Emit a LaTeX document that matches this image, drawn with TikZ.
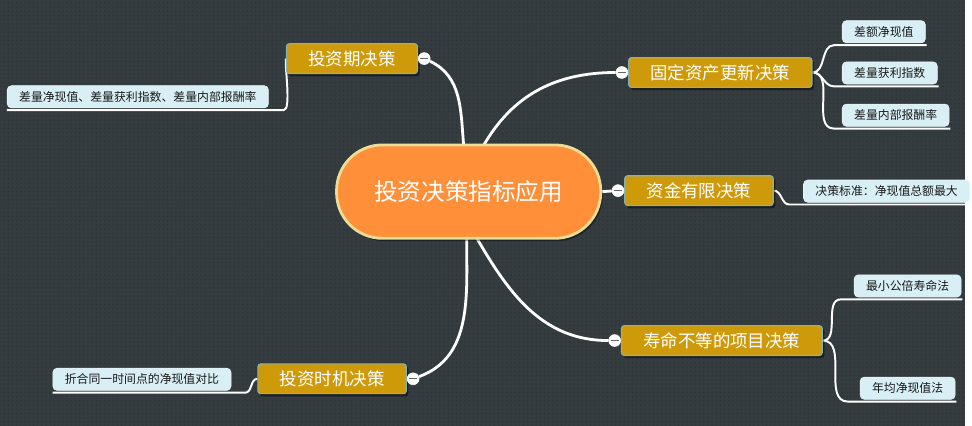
\documentclass[tikz,border=0pt]{standalone}
\usepackage{fontspec}
\setmainfont{Noto Sans CJK SC}
\usepackage{tikz}
\usetikzlibrary{positioning, calc, backgrounds, shadows, patterns}

\definecolor{boardbg}{RGB}{53,60,63}
\definecolor{boarddot}{RGB}{43,49,52}
\definecolor{rootfill}{RGB}{255,143,56}
\definecolor{rootedge}{RGB}{236,221,150}
\definecolor{branchfill}{RGB}{207,154,10}
\definecolor{branchedge}{RGB}{134,178,178}
\definecolor{leaffill}{RGB}{216,239,245}
\definecolor{leafedge}{RGB}{236,246,249}

\begin{document}
\begin{tikzpicture}[
        x=0.025cm, y=-0.025cm,
        root/.style={rectangle, draw=rootedge, line width=2pt, fill=rootfill, text=white, rounded corners=1.15cm, minimum width=6.65cm, minimum height=2.35cm, font=\fontsize{16.9}{20}\selectfont, drop shadow={shadow xshift=1.5pt, shadow yshift=-2pt, fill=black, opacity=0.4}},
        topic/.style={rectangle, draw=branchedge, thick, fill=branchfill, text=white, rounded corners=2pt, inner xsep=0.55cm, minimum height=0.75cm, font=\fontsize{12.5}{15}\selectfont, drop shadow={shadow xshift=1.5pt, shadow yshift=-2pt, fill=black, opacity=0.45}},
        leaf/.style={rectangle, draw=leafedge, fill=leaffill, text=black!90, rounded corners=3pt, inner xsep=0.3cm, minimum height=0.56cm, font=\fontsize{8.5}{10}\selectfont},
        fold/.style={circle, draw=white, fill=white, minimum size=0.3cm, inner sep=0pt, path picture={\draw[black!60, line width=1pt] ([xshift=-2.8pt]path picture bounding box.center) -- ([xshift=2.8pt]path picture bounding box.center);}},
        trunk/.style={white, line width=2pt},
        twig/.style={white, line width=1.4pt}
    ]

    % Nodes
    \node[root] (root) at (472,193) {投资决策指标应用};

    \node[topic] (period) at (354.5,59) {投资期决策};
    \node[topic] (renew) at (725.5,73) {固定资产更新决策};
    \node[topic] (capital) at (704,192) {资金有限决策};
    \node[topic] (life) at (727,343) {寿命不等的项目决策};
    \node[topic] (timing) at (334.5,381.5) {投资时机决策};

    % Fold markers
    \node[fold] (periodfold) [right=0pt of period] {};
    \node[fold] (renewfold) [left=0pt of renew] {};
    \node[fold] (capitalfold) [left=0pt of capital] {};
    \node[fold] (lifefold) [left=0pt of life] {};
    \node[fold] (timingfold) [right=0pt of timing] {};

    % Leaves
    \node[leaf, anchor=west] (periodnote) at (7,97.5) {差量净现值、差量获利指数、差量内部报酬率};
    \node[leaf, anchor=west] (npvdiff) at (848,32) {差额净现值};
    \node[leaf, anchor=west] (pidiff) at (848,73.5) {差量获利指数};
    \node[leaf, anchor=west] (irrdiff) at (848,116) {差量内部报酬率};
    \node[leaf, anchor=west] (rule) at (809,192.5) {决策标准：净现值总额最大};
    \node[leaf, anchor=west] (lcm) at (860,288) {最小公倍寿命法};
    \node[leaf, anchor=west] (annual) at (866,391) {年均净现值法};
    \node[leaf, anchor=west] (timingnote) at (53,382) {折合同一时间点的净现值对比};

    % Board and connections
    \begin{scope}[on background layer]
        \fill[boardbg] (0,0) rectangle (972,429);
        \fill[pattern=dots, pattern color=boarddot] (0,0) rectangle (972,429);

        \draw[trunk] ($(root.north)+(-5,2)$) to[out=95,in=-25] (periodfold);
        \draw[trunk] ($(root.north)+(15,2)$) to[out=60,in=180] (renewfold);
        \draw[trunk] (root.east) -- (capitalfold);
        \draw[trunk] ($(root.south)+(8,-2)$) to[out=-60,in=180] (lifefold);
        \draw[trunk] ($(root.south)+(-2,-2)$) to[out=-90,in=20] (timingfold);

        \draw[twig] (period.west) to[out=-100,in=0,looseness=0.4] ($(periodnote.south east)+(15,2)$) -- ($(periodnote.south west)+(0,2)$);
        \draw[twig] (renew.east) to[out=0,in=180] ($(npvdiff.south west)+(-8,2)$) -- ($(npvdiff.south east)+(1,2)$);
        \draw[twig] (renew.east) to[out=0,in=180] ($(pidiff.south west)+(-8,2)$) -- ($(pidiff.south east)+(1,2)$);
        \draw[twig] (renew.east) to[out=0,in=180] ($(irrdiff.south west)+(-8,2)$) -- ($(irrdiff.south east)+(1,2)$);
        \draw[twig] (capital.east) to[out=0,in=180] ($(rule.south west)+(-14,2)$) -- ($(rule.south east)+(1,2)$);
        \draw[twig] (life.east) to[out=0,in=180] ($(lcm.south west)+(-13,2)$) -- ($(lcm.south east)+(1,2)$);
        \draw[twig] (life.east) to[out=0,in=180] ($(annual.south west)+(-12,2)$) -- ($(annual.south east)+(1,2)$);
        \draw[twig] (timing.west) to[out=180,in=0] ($(timingnote.south east)+(14,2)$) -- ($(timingnote.south west)+(0,2)$);
    \end{scope}

\end{tikzpicture}
\end{document}
